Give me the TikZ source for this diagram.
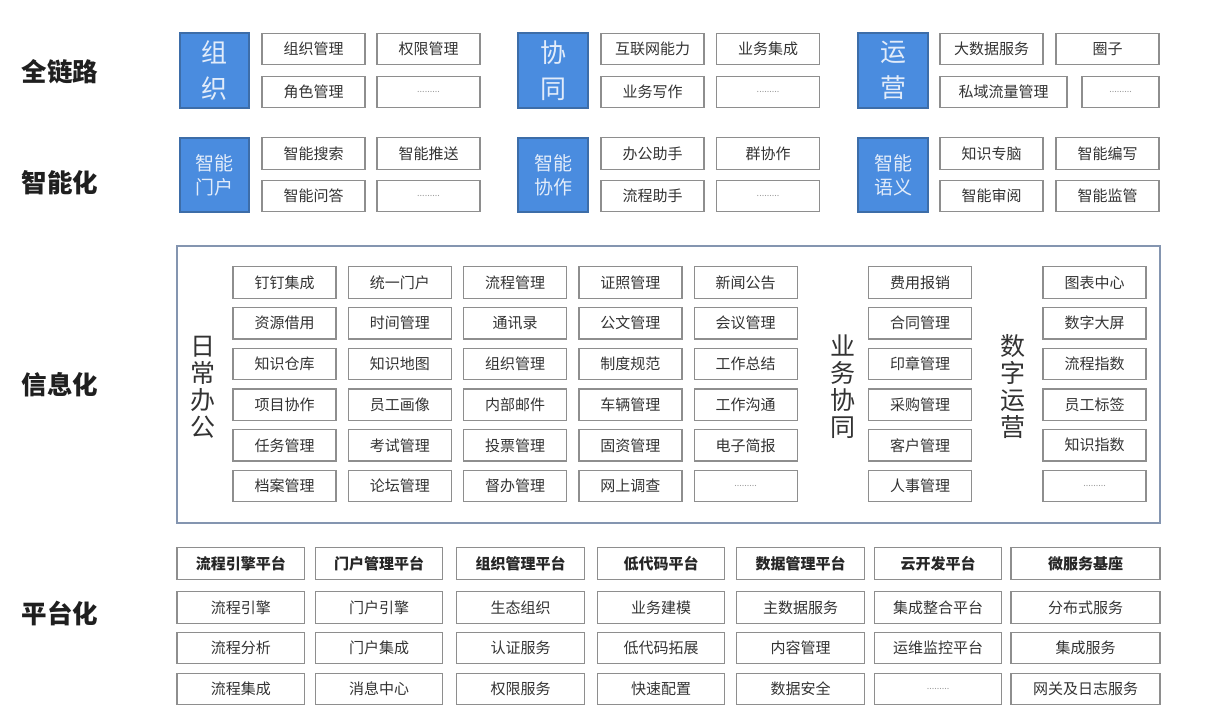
\documentclass[tikz,border=0pt]{standalone}
\usepackage{fontspec}
\setmainfont{Noto Sans CJK SC}
\definecolor{blueF}{HTML}{4A8CDF}
\definecolor{blueD}{HTML}{3D6DA8}
\definecolor{blueT}{HTML}{E2ECFA}
\definecolor{cellB}{HTML}{8E8E8E}
\definecolor{txt}{HTML}{333333}
\definecolor{frameB}{HTML}{8495B0}
\newcommand\celldots{{\fontsize{9}{9}\selectfont\color{gray!80}.........}}
\tikzset{
  cell/.style={draw=cellB, line width=1.3pt, fill=white, inner sep=0pt, text=txt,
    font=\fontsize{15}{18}\selectfont, minimum height=31.5pt, minimum width=103pt},
  hcell/.style={cell, font=\fontsize{15}{18}\selectfont\bfseries, text=black!85},
  bluebox/.style={draw=blueD, line width=1.2pt, fill=blueF, text=blueT, align=center, inner sep=0pt},
  bigblue/.style={bluebox, font=\fontsize{26}{36}\selectfont},
  smallblue/.style={bluebox, font=\fontsize{19}{24}\selectfont},
  layer/.style={font=\fontsize{25.5}{28}\selectfont\bfseries, text=black!88},
  vlabel/.style={font=\fontsize{25}{27}\selectfont, text=txt, align=center},
}
\begin{document}
\begin{tikzpicture}[x=1pt,y=-1pt]
\useasboundingbox (0,0) rectangle (1219,714);
\fill[white] (0,0) rectangle (1219,714);

% layer labels
\node[layer] (L1) at (60,72) {全链路};
\node[layer] (L2) at (60,183) {智能化};
\node[layer] (L3) at (60,385) {信息化};
\node[layer] (L4) at (60,613) {平台化};

% ---------- 全链路 ----------
\node[bigblue, minimum width=69pt, minimum height=75pt] (b11) at (214.5,70.5) {组\\织};
\node[cell] (a1) at (313.5,49) {组织管理};
\node[cell] (a2) at (428.5,49) {权限管理};
\node[cell] (a3) at (313.5,92) {角色管理};
\node[cell] (a4) at (428.5,92) {\celldots};

\node[bigblue, minimum width=70pt, minimum height=75pt] (b12) at (553,70.5) {协\\同};
\node[cell] (a5) at (652.5,49) {互联网能力};
\node[cell] (a6) at (768,49) {业务集成};
\node[cell] (a7) at (652.5,92) {业务写作};
\node[cell] (a8) at (768,92) {\celldots};

\node[bigblue, minimum width=70pt, minimum height=75pt] (b13) at (893,70.5) {运\\营};
\node[cell] (a9) at (991.5,49) {大数据服务};
\node[cell] (a10) at (1107.5,49) {圈子};
\node[cell, minimum width=127pt] (a11) at (1003.5,92) {私域流量管理};
\node[cell, minimum width=77pt] (a12) at (1120.5,92) {\celldots};

% ---------- 智能化 ----------
\node[smallblue, minimum width=69pt, minimum height=74pt] (b21) at (214.5,175) {智能\\门户};
\node[cell] (c1) at (313.5,153.5) {智能搜索};
\node[cell] (c2) at (428.5,153.5) {智能推送};
\node[cell] (c3) at (313.5,196) {智能问答};
\node[cell] (c4) at (428.5,196) {\celldots};

\node[smallblue, minimum width=70pt, minimum height=74pt] (b22) at (553,175) {智能\\协作};
\node[cell] (c5) at (652.5,153.5) {办公助手};
\node[cell] (c6) at (768,153.5) {群协作};
\node[cell] (c7) at (652.5,196) {流程助手};
\node[cell] (c8) at (768,196) {\celldots};

\node[smallblue, minimum width=70pt, minimum height=74pt] (b23) at (893,175) {智能\\语义};
\node[cell] (c9) at (991.5,153.5) {知识专脑};
\node[cell] (c10) at (1107.5,153.5) {智能编写};
\node[cell] (c11) at (991.5,196) {智能审阅};
\node[cell] (c12) at (1107.5,196) {智能监管};

% ---------- 信息化 ----------
\node[draw=frameB, line width=1.5pt, minimum width=983pt, minimum height=277pt, inner sep=0pt] (frame) at (668.5,384.5) {};
\node[vlabel] (v1) at (203,387) {日\\常\\办\\公};
\node[vlabel] (v2) at (843,387) {业\\务\\协\\同};
\node[vlabel] (v3) at (1013,387) {数\\字\\运\\营};

\foreach \r/\lst in {
  0/{钉钉集成,统一门户,流程管理,证照管理,新闻公告,费用报销,图表中心},
  1/{资源借用,时间管理,通讯录,公文管理,会议管理,合同管理,数字大屏},
  2/{知识仓库,知识地图,组织管理,制度规范,工作总结,印章管理,流程指数},
  3/{项目协作,员工画像,内部邮件,车辆管理,工作沟通,采购管理,员工标签},
  4/{任务管理,考试管理,投票管理,固资管理,电子简报,客户管理,知识指数},
  5/{档案管理,论坛管理,督办管理,网上调查,\celldots,人事管理,\celldots}}{
  \foreach \t [count=\c from 0] in \lst {
    \pgfmathsetmacro\xx{\c<5 ? 284.5+115.3*\c : (\c==5 ? 920 : 1094.5)}
    \pgfmathsetmacro\yy{282.5+40.7*\r}
    \node[cell] (d\r-\c) at (\xx,\yy) {\t};
  }
}

% ---------- 平台化 ----------
\foreach \r/\lst in {
  0/{流程引擎平台,门户管理平台,组织管理平台,低代码平台,数据管理平台,云开发平台,微服务基座},
  1/{流程引擎,门户引擎,生态组织,业务建模,主数据服务,集成整合平台,分布式服务},
  2/{流程分析,门户集成,认证服务,低代码拓展,内容管理,运维监控平台,集成服务},
  3/{流程集成,消息中心,权限服务,快速配置,数据安全,\celldots,网关及日志服务}}{
  \foreach \t [count=\c from 0] in \lst {
    \pgfmathsetmacro\xx{\c==0 ? 240.75 : (\c==1 ? 379 : (\c==2 ? 520.5 : (\c==3 ? 661 : (\c==4 ? 800.5 : (\c==5 ? 938 : 1085.5)))))}
    \pgfmathsetmacro\yy{\r==0 ? 563.5 : (\r==1 ? 607.5 : (\r==2 ? 648 : 689))}
    \pgfmathsetmacro\ww{\c==6 ? 149 : 127.5}
    \ifnum\r=0
      \node[hcell, minimum width=\ww pt] (p\r-\c) at (\xx,\yy) {\t};
    \else
      \node[cell, minimum width=\ww pt] (p\r-\c) at (\xx,\yy) {\t};
    \fi
  }
}
\end{tikzpicture}
\end{document}
